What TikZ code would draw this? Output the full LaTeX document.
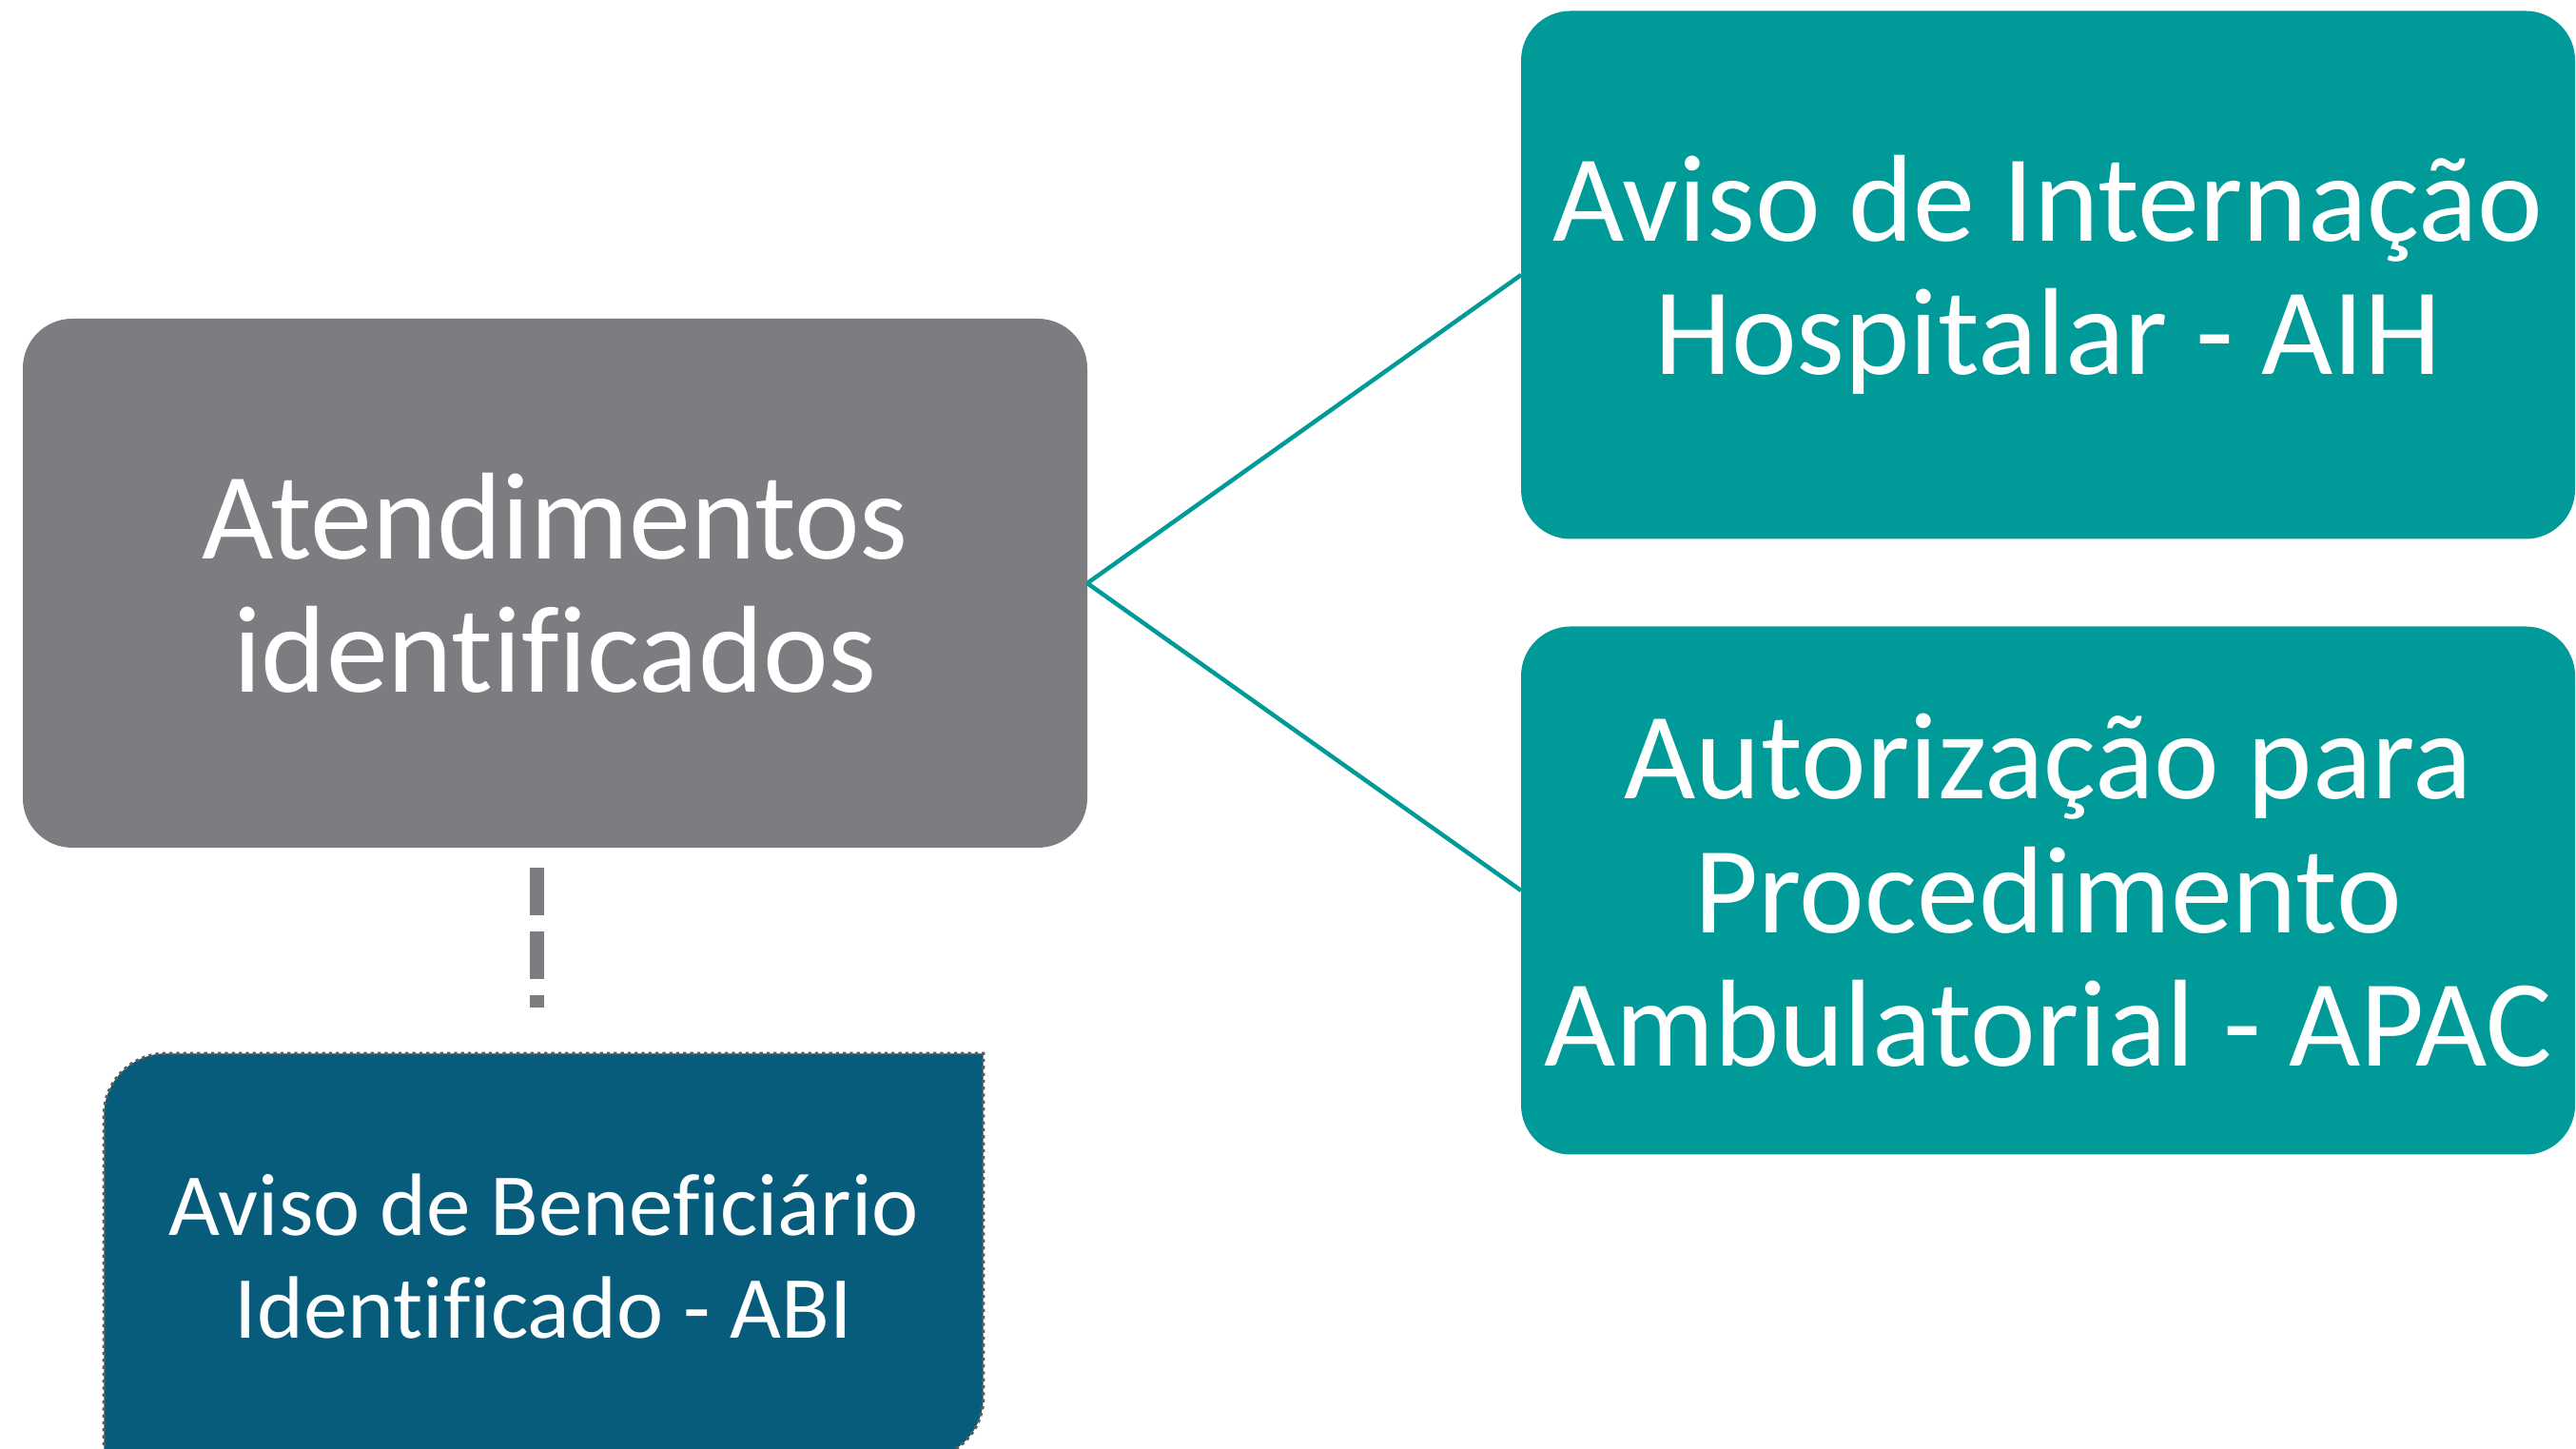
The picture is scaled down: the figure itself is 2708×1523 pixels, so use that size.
\documentclass[tikz,border=0pt]{standalone}
\usepackage{fontspec}
\setmainfont{Carlito}[Ligatures={TeX,NoCommon}]
\usepackage{xcolor}
\usepackage{tikz}
\usetikzlibrary{backgrounds}
\definecolor{boxgrey}{HTML}{7C7D81}
\definecolor{boxteal}{HTML}{009A98}
\definecolor{abiblue}{HTML}{065C7A}
\definecolor{dotgrey}{HTML}{5A5A5A}

\begin{document}
\begin{tikzpicture}[x=0.1mm, y=0.1mm,
  bigbox/.style={rectangle, rounded corners=5.2mm, inner sep=0pt, outer sep=0pt,
    align=center, text=white, font=\fontsize{37pt}{40pt}\selectfont},
  tealbox/.style={bigbox, fill=boxteal, minimum width=110.8mm, minimum height=55.5mm},
  tealline/.style={draw=boxteal, line width=0.45mm},
  abilink/.style={draw=boxgrey, line width=1.5mm, dash pattern=on 5mm off 1.7mm}]
\useasboundingbox (0,0) rectangle (2708,1523);
\clip (0,0) rectangle (2708,1523);
\node[bigbox, fill=boxgrey, minimum width=111.9mm, minimum height=55.6mm]
  (grey) at (583.5,910) {Atendimentos\\identificados};
\node[tealbox] (aih) at (2153,1234) {Aviso de Internação\\Hospitalar - AIH};
\node[tealbox] (apac) at (2153,587) {Autorização para\\Procedimento\\Ambulatorial - APAC};
\node[align=center, text=white, inner sep=0pt, minimum width=92.3mm, minimum height=42.5mm,
  font=\fontsize{26.5pt}{31pt}\selectfont] (abi) at (571.5,202.5)
  {Aviso de Beneficiário\\Identificado - ABI};
\begin{scope}[on background layer]
\draw[fill=abiblue, draw=dotgrey, line width=0.33mm, dash pattern=on 0.33mm off 0.4mm]
  (abi.south west) -- ([yshift=-6.5mm]abi.north west)
  arc[start angle=180, end angle=90, radius=6.5mm] -- (abi.north east)
  -- ([yshift=6.5mm]abi.south east)
  arc[start angle=0, end angle=-90, radius=6.5mm] -- cycle;
\end{scope}
\draw[tealline] (grey.east) -- (aih.west);
\draw[tealline] (grey.east) -- (apac.west);
\coordinate (abitop) at ([xshift=-0.7mm]abi.north);
\draw[abilink, shorten <=2.1mm, shorten >=4.8mm] (abitop |- grey.south) -- (abitop);
\end{tikzpicture}
\end{document}
